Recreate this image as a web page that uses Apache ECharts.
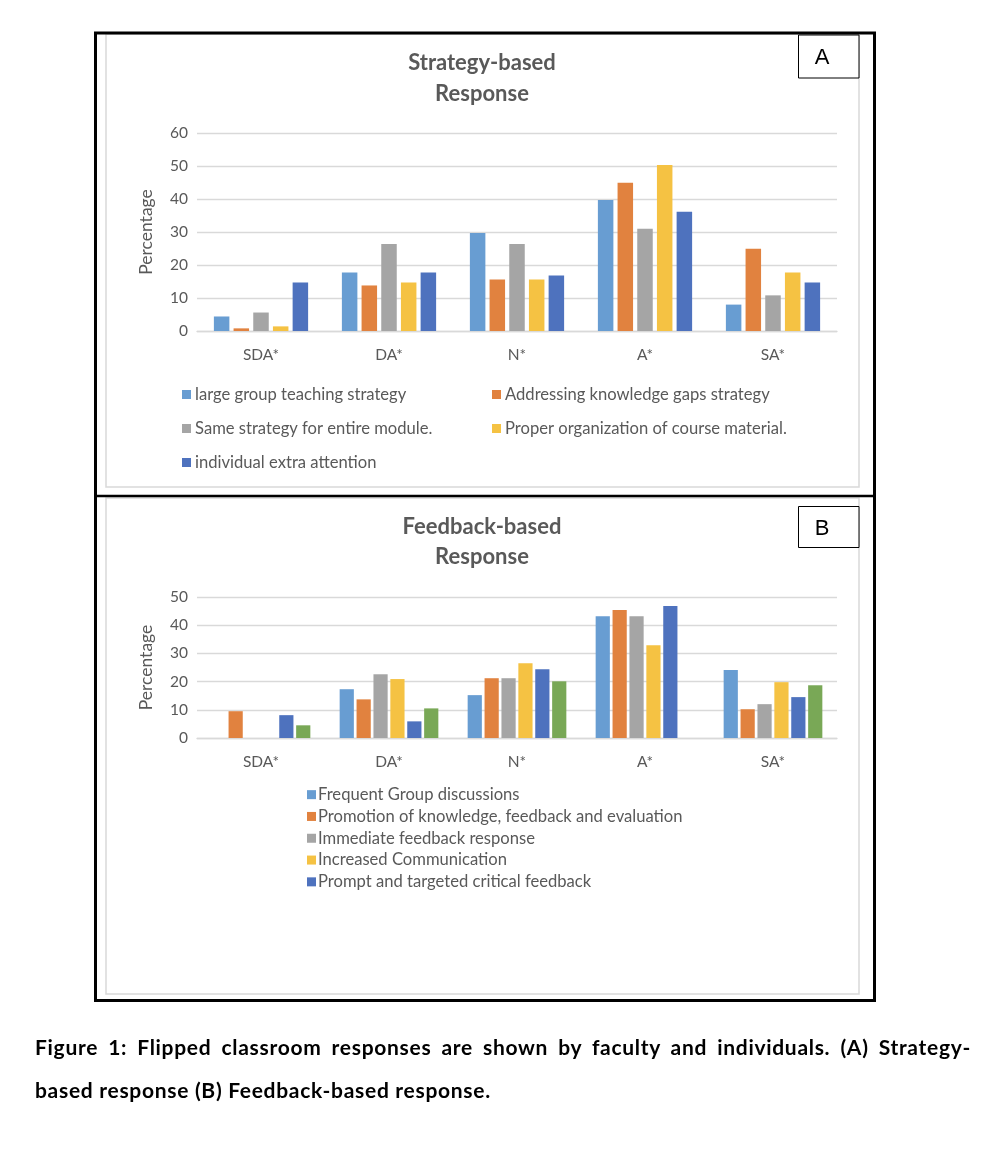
<!DOCTYPE html>
<html>
<head>
<meta charset="utf-8">
<script src="https://cdn.jsdelivr.net/npm/echarts@6/dist/echarts.min.js"></script>
<style>
  html, body { margin: 0; padding: 0; background: #fff; }
  #chart { position: absolute; left: 0; top: 0; width: 990px; height: 1162px; }
  .cap { position: absolute; left: 35px; width: 936px; font-family: Lato, "Liberation Sans", sans-serif; font-weight: bold; font-size: 21px; letter-spacing: 0.7px; color: #000; white-space: nowrap; }
  #cap1 { top: 1034px; text-align: justify; text-align-last: justify; }
  #cap2 { top: 1077px; }
</style>
</head>
<body>
<div id="chart"></div>
<div class="cap" id="cap1">Figure 1: Flipped classroom responses are shown by faculty and individuals. (A) Strategy-</div>
<div class="cap" id="cap2">based response (B) Feedback-based response.</div>
<script>
const categories = ['SDA*', 'DA*', 'N*', 'A*', 'SA*'];

const strategyNames = [
  'large group teaching strategy',
  'Addressing knowledge gaps strategy',
  'Same strategy for entire module.',
  'Proper organization of course material.',
  'individual extra attention'
];
const largeGroup      = [4.4, 17.7, 29.7, 39.7, 8.0];
const addressingGaps  = [0.8, 13.8, 15.6, 44.9, 24.9];
const sameStrategy    = [5.6, 26.4, 26.4, 31.0, 10.8];
const properOrg       = [1.4, 14.7, 15.6, 50.3, 17.7];
const individualAttn  = [14.7, 17.7, 16.8, 36.1, 14.7];
const strategyValues = [largeGroup, addressingGaps, sameStrategy, properOrg, individualAttn];

const feedbackNames = [
  'Frequent Group discussions',
  'Promotion of knowledge, feedback and evaluation',
  'Immediate feedback response',
  'Increased Communication',
  'Prompt and targeted critical feedback',
  'Series 6'
];
const groupDiscussions = [0, 17.3, 15.2, 43.2, 24.1];
const promotion        = [9.5, 13.7, 21.2, 45.4, 10.2];
const immediate        = [0, 22.6, 21.2, 43.2, 12.0];
const communication    = [0, 20.9, 26.5, 32.9, 19.8];
const promptCritical   = [8.1, 5.9, 24.4, 46.8, 14.5];
const series6          = [4.5, 10.5, 20.1, 0, 18.7];
const feedbackValues = [groupDiscussions, promotion, immediate, communication, promptCritical, series6];

const yTicksA = { min: 0, max: 60, interval: 10 };
const yTicksB = { min: 0, max: 50, interval: 10 };

const colors = ['#689dd2', '#e1823f', '#a5a5a5', '#f5c243', '#4e72be', '#79a856'];
const FONT = 'Lato, "Liberation Sans", sans-serif';
const TXT = '#595959';
const GRID = '#d9d9d9';

function xAxis(gridIndex) {
  return {
    type: 'category', gridIndex, data: categories,
    axisLine: { lineStyle: { color: GRID, width: 1.3 } },
    axisTick: { show: false },
    axisLabel: { color: TXT, fontFamily: FONT, fontSize: 15.5, margin: 16 }
  };
}
function yAxis(gridIndex, t) {
  return {
    type: 'value', gridIndex, min: t.min, max: t.max, interval: t.interval,
    name: 'Percentage', nameLocation: 'middle', nameGap: 42,
    nameTextStyle: { color: TXT, fontFamily: FONT, fontSize: 17.5 },
    axisLine: { show: false }, axisTick: { show: false },
    axisLabel: { color: TXT, fontFamily: FONT, fontSize: 15.5, margin: 9 },
    splitLine: { lineStyle: { color: GRID, width: 1.3 } }
  };
}

const series = [];
strategyNames.forEach((n, i) => {
  series.push({
    name: n, type: 'bar', xAxisIndex: 0, yAxisIndex: 0,
    data: strategyValues[i], barWidth: 15.5, barGap: '27%',
    itemStyle: { color: colors[i] }
  });
});
feedbackNames.forEach((n, i) => {
  series.push({
    name: n, type: 'bar', xAxisIndex: 1, yAxisIndex: 1,
    data: feedbackValues[i], barWidth: 14.2, barGap: '19%',
    itemStyle: { color: colors[i] }
  });
});

const legTxt = { color: TXT, fontFamily: FONT, fontSize: 16.6 };
const legendPosA = [[182, 386], [492, 386], [182, 420], [492, 420], [182, 454]];
const legends = strategyNames.map((n, i) => ({
  data: [n], left: legendPosA[i][0], top: legendPosA[i][1],
  itemWidth: 9, itemHeight: 9, itemGap: 5, icon: 'rect', padding: 0,
  textStyle: Object.assign({ padding: [0, 0, 0, -1] }, legTxt)
}));
legends.push({
  data: feedbackNames.slice(0, 5), orient: 'vertical', left: 307, top: 786,
  itemWidth: 9, itemHeight: 9, itemGap: 4.5, icon: 'rect', padding: 0,
  textStyle: Object.assign({ lineHeight: 17.3, padding: [0, 0, 0, -3] }, legTxt)
});

const option = {
  animation: false,
  textStyle: { fontFamily: FONT },
  title: [
    { text: 'Strategy-based\nResponse', left: 477, textAlign: 'center', top: 42,
      textStyle: { color: TXT, fontFamily: FONT, fontWeight: 'bold', fontSize: 22, lineHeight: 31 } },
    { text: 'Feedback-based\nResponse', left: 477, textAlign: 'center', top: 507,
      textStyle: { color: TXT, fontFamily: FONT, fontWeight: 'bold', fontSize: 22, lineHeight: 30 } }
  ],
  legend: legends,
  grid: [
    { left: 197, top: 133, width: 640, height: 198 },
    { left: 197, top: 597, width: 640, height: 141 }
  ],
  xAxis: [xAxis(0), xAxis(1)],
  yAxis: [yAxis(0, yTicksA), yAxis(1, yTicksB)],
  series,
  graphic: [
    { type: 'rect', shape: { x: 106, y: 34, width: 753, height: 453 }, style: { fill: 'none', stroke: GRID, lineWidth: 1.5 }, z: 1 },
    { type: 'rect', shape: { x: 106, y: 498, width: 753, height: 496 }, style: { fill: 'none', stroke: GRID, lineWidth: 1.5 }, z: 1 },
    { type: 'rect', shape: { x: 95.5, y: 33, width: 779, height: 967.5 }, style: { fill: 'none', stroke: '#000', lineWidth: 3 }, z: 10 },
    { type: 'line', shape: { x1: 95, y1: 496, x2: 875, y2: 496 }, style: { stroke: '#000', lineWidth: 2.5 }, z: 10 },
    { type: 'rect', shape: { x: 798.5, y: 35, width: 60.5, height: 43 }, style: { fill: '#fff', stroke: '#000', lineWidth: 1 }, z: 11 },
    { type: 'text', x: 822, y: 58, style: { text: 'A', fill: '#000', font: '22px "Liberation Sans", Arial, sans-serif', textAlign: 'center', textVerticalAlign: 'middle' }, z: 12 },
    { type: 'rect', shape: { x: 798.5, y: 506.5, width: 60.5, height: 41 }, style: { fill: '#fff', stroke: '#000', lineWidth: 1 }, z: 11 },
    { type: 'text', x: 822, y: 529, style: { text: 'B', fill: '#000', font: '22px "Liberation Sans", Arial, sans-serif', textAlign: 'center', textVerticalAlign: 'middle' }, z: 12 }
  ]
};

const chart = echarts.init(document.getElementById('chart'), null, { renderer: 'canvas' });
chart.setOption(option);
</script>
</body>
</html>
